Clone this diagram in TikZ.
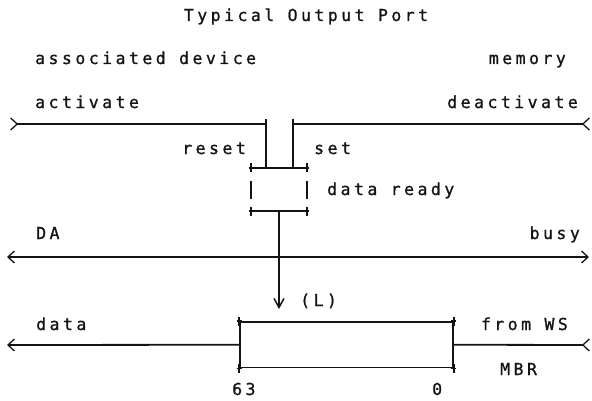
\documentclass[tikz,border=0pt]{standalone}
\usepackage{fontspec}
\usepackage{xcolor}
\usepackage{tikz}
\usetikzlibrary{arrows.meta, positioning, calc}
\newfontfamily\portfont{DejaVu Sans Mono}[LetterSpace=21,FakeBold=1]
\definecolor{portink}{HTML}{141414}

\begin{document}
\begin{tikzpicture}[x=1pt,y=1pt,
    txt/.style={font=\portfont\fontsize{16.5}{18}\selectfont, inner sep=0pt, text=portink},
    wire/.style={draw=portink, line width=1.8pt},
    barb/.tip={Straight Barb[length=6.5pt,width=12pt,line width=1.3pt]}]
  \useasboundingbox (0,0) rectangle (592,400);
  % headings
  \node[txt,anchor=base] (title) at (306,379) {Typical Output Port};
  \node[txt,anchor=base west] (assoc) at (35,336) {associated device};
  \node[txt,anchor=base east] (memory) at (566,336) {memory};
  \node[txt,anchor=base west] (activate) at (35,292) {activate};
  \node[txt,anchor=base east] (deactivate) at (578,292) {deactivate};
  % flip-flop
  \node[minimum width=55pt,minimum height=43pt,inner sep=0pt] (ff) at (279,210.5) {};
  \draw[wire] (ff.north west) -- (ff.north east);
  \draw[wire] (ff.south west) -- (ff.south east);
  \draw[wire] ($(ff.west)+(0,9)$) -- ($(ff.west)+(0,-9)$);
  \draw[wire] ($(ff.east)+(0,9)$) -- ($(ff.east)+(0,-9)$);
  \node[txt,anchor=base east] (reset) at (246,246) {reset};
  \node[txt,anchor=base west] (set) at (314,246) {set};
  \node[txt,anchor=base west] (ready) at (327,205) {data ready};
  % activate / deactivate lines
  \coordinate (topL) at (10,276);
  \coordinate (topR) at (590,276);
  \coordinate (rs) at (266,281);
  \coordinate (st) at (293,281);
  \draw[wire,{barb[reversed]}-] (topL) -- (rs |- topL);
  \draw[wire,-{barb[reversed]}] (st |- topR) -- (topR);
  \draw[wire] (rs) -- (rs |- ff.north);
  \draw[wire] (st) -- (st |- ff.north);
  % DA / busy
  \node[txt,anchor=base west] (da) at (36,161) {DA};
  \node[txt,anchor=base east] (busy) at (580,161) {busy};
  \coordinate (busL) at (7,143);
  \coordinate (busR) at (589,143);
  \draw[wire,{barb}-{barb}] (busL) -- (busR);
  % load into register
  \coordinate (tip) at (279,91);
  \draw[wire,-{Straight Barb[length=9pt,width=10pt,line width=1.5pt]}] (ff.south) -- (ff.south |- tip);
  \node[txt,anchor=base west] (load) at (300,94) {(L)};
  % register
  \node[draw=portink,line width=1.8pt,minimum width=213pt,minimum height=45.5pt,inner sep=0pt] (mbr) at (346.5,55.25) {};
  \foreach \c in {ff.north west,ff.north east,ff.south west,ff.south east,mbr.north west,mbr.north east,mbr.south west,mbr.south east} {
    \draw[wire] (\c) +(0,-4.5) -- +(0,4.5) (\c) +(-2.5,0) -- +(2.5,0);
  }
  \coordinate (dataL) at (7,55);
  \coordinate (dataR) at (590,55);
  \draw[wire,-{barb}] (mbr.west) -- (dataL);
  \draw[wire,-{barb[reversed]}] (mbr.east) -- (dataR);
  \node[txt,anchor=base west] (data) at (36,70) {data};
  \node[txt,anchor=base east] (fromws) at (568,70) {from WS};
  \node[txt,anchor=base west] (mbrlbl) at (500,25) {MBR};
  \node[txt,anchor=base west] (msb) at (232,5) {63};
  \node[txt,anchor=base west] (lsb) at (432,5) {0};
\end{tikzpicture}
\end{document}
